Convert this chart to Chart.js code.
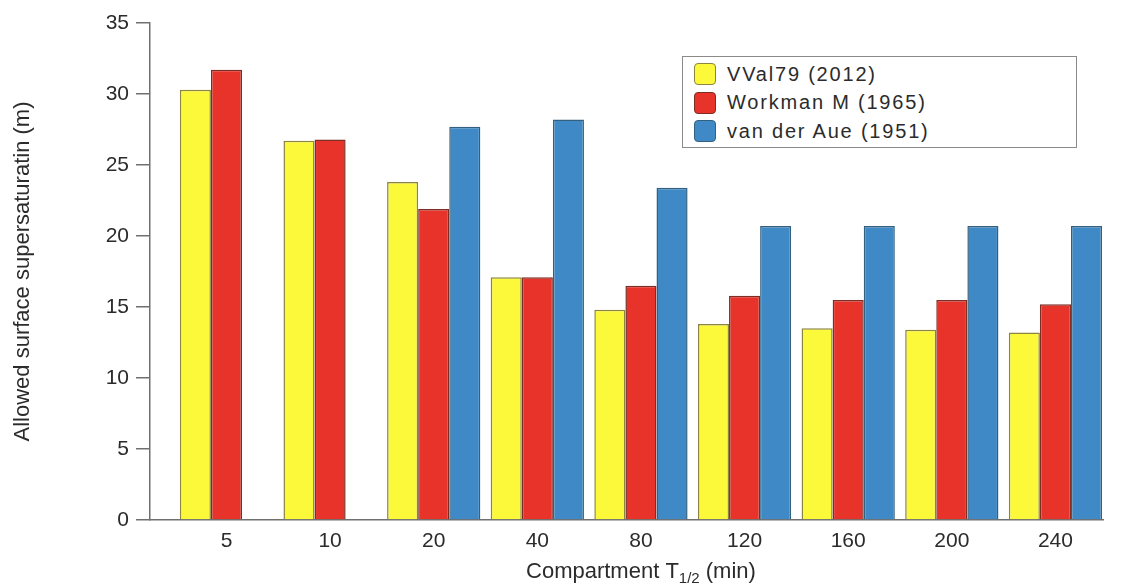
<!DOCTYPE html>
<html>
<head>
<meta charset="utf-8">
<script src="https://cdn.jsdelivr.net/npm/chart.js@4.4.1/dist/chart.umd.min.js"></script>
<style>
    html, body { margin: 0; padding: 0; background: #fff; }
    #wrap { position: relative; width: 1123px; height: 583px; }
    #legend {
        position: absolute; left: 682px; top: 56px; width: 395px; height: 92px;
        border: 1px solid #8a8a8a; box-sizing: border-box; padding-top: 3px;
        font-family: "Liberation Sans", Arial, sans-serif; font-size: 20px; color: #2b2b2b;
        letter-spacing: 1.8px; background: #fff;
    }
    .row { display: flex; align-items: center; height: 28.5px; }
    .sw { width: 22px; height: 22px; border-radius: 4px; margin: 0 11px 0 11px; box-sizing: border-box; }
</style>
</head>
<body>
<div id="wrap">
    <canvas id="chart" width="1123" height="583"></canvas>
    <div id="legend"></div>
</div>
<script>
    // Data
    const categories = ['5', '10', '20', '40', '80', '120', '160', '200', '240'];
    const seriesNames = ['VVal79 (2012)', 'Workman M (1965)', 'van der Aue (1951)'];
    const vval79 = [30.3, 26.7, 23.8, 17.1, 14.8, 13.8, 13.5, 13.4, 13.2];
    const workman = [31.7, 26.8, 21.9, 17.1, 16.5, 15.8, 15.5, 15.5, 15.2];
    const vanDerAue = [null, null, 27.7, 28.2, 23.4, 20.7, 20.7, 20.7, 20.7];
    const yTicks = [0, 5, 10, 15, 20, 25, 30, 35];

    const fills = ['#fbf93a', '#e8332a', '#3f8ac6'];
    const borders = ['#8c8440', '#7d2d24', '#34607f'];
    const FONT = '"Liberation Sans", Arial, sans-serif';
    const AXIS = '#707070';

    const toPoints = arr => arr.map((v, i) => ({ x: i, y: v }));

    const datasets = [vval79, workman, vanDerAue].map((vals, i) => ({
        label: seriesNames[i],
        data: toPoints(vals),
        backgroundColor: fills[i],
        borderColor: borders[i],
        borderWidth: 1.5,
        borderSkipped: 'bottom',
        categoryPercentage: 0.9,
        barPercentage: 1.0
    }));

    // x title with subscript, centred under the bar groups
    const xTitlePlugin = {
        id: 'xTitle',
        afterDraw(chart) {
            const ctx = chart.ctx;
            const xs = chart.scales.x;
            const cx = (xs.getPixelForValue(0) + xs.getPixelForValue(categories.length - 1)) / 2;
            const base = 578;
            const parts = [
                { t: 'Compartment T', size: 22, dy: 0 },
                { t: '1/2', size: 15, dy: 5 },
                { t: ' (min)', size: 22, dy: 0 }
            ];
            ctx.save();
            ctx.fillStyle = '#2b2b2b';
            ctx.textBaseline = 'alphabetic';
            ctx.textAlign = 'left';
            let total = 0;
            parts.forEach(p => { ctx.font = p.size + 'px ' + FONT; p.w = ctx.measureText(p.t).width; total += p.w; });
            let x = cx - total / 2;
            parts.forEach(p => {
                ctx.font = p.size + 'px ' + FONT;
                ctx.fillText(p.t, x, base + p.dy);
                x += p.w;
            });
            ctx.restore();
        }
    };

    new Chart(document.getElementById('chart'), {
        type: 'bar',
        data: { datasets: datasets },
        plugins: [xTitlePlugin],
        options: {
            responsive: false,
            animation: false,
            layout: { padding: { top: 23, right: 20, left: 0, bottom: 0 } },
            plugins: {
                legend: { display: false },
                tooltip: { enabled: false }
            },
            scales: {
                x: {
                    type: 'linear',
                    offset: false,
                    min: -0.738,
                    max: 8.459,
                    afterBuildTicks: scale => { scale.ticks = categories.map((c, i) => ({ value: i })); },
                    afterFit: scale => { scale.height = 63; },
                    ticks: {
                        autoSkip: false,
                        maxRotation: 0,
                        padding: 9,
                        color: '#2b2b2b',
                        font: { family: FONT, size: 21 },
                        callback: value => categories[value]
                    },
                    grid: { display: false, drawTicks: false, offset: false },
                    border: { display: true, color: AXIS, width: 1.5 }
                },
                y: {
                    min: 0,
                    max: 35,
                    afterBuildTicks: scale => { scale.ticks = yTicks.map(v => ({ value: v })); },
                    afterFit: scale => { scale.width = 150; },
                    ticks: {
                        padding: 7,
                        color: '#2b2b2b',
                        font: { family: FONT, size: 21 }
                    },
                    grid: { drawOnChartArea: false, drawTicks: true, tickLength: 14, color: AXIS, lineWidth: 1.5 },
                    border: { display: true, color: AXIS, width: 1.5 },
                    title: {
                        display: true,
                        text: 'Allowed surface supersaturatin (m)',
                        color: '#2b2b2b',
                        font: { family: FONT, size: 22 },
                        padding: { top: 10, bottom: 0 }
                    }
                }
            }
        }
    });

    // Legend
    const legend = document.getElementById('legend');
    seriesNames.forEach((name, i) => {
        const row = document.createElement('div');
        row.className = 'row';
        row.innerHTML = `<span class="sw" style="background:${fills[i]};border:1.5px solid ${borders[i]}"></span><span>${name}</span>`;
        legend.appendChild(row);
    });
</script>
</body>
</html>
